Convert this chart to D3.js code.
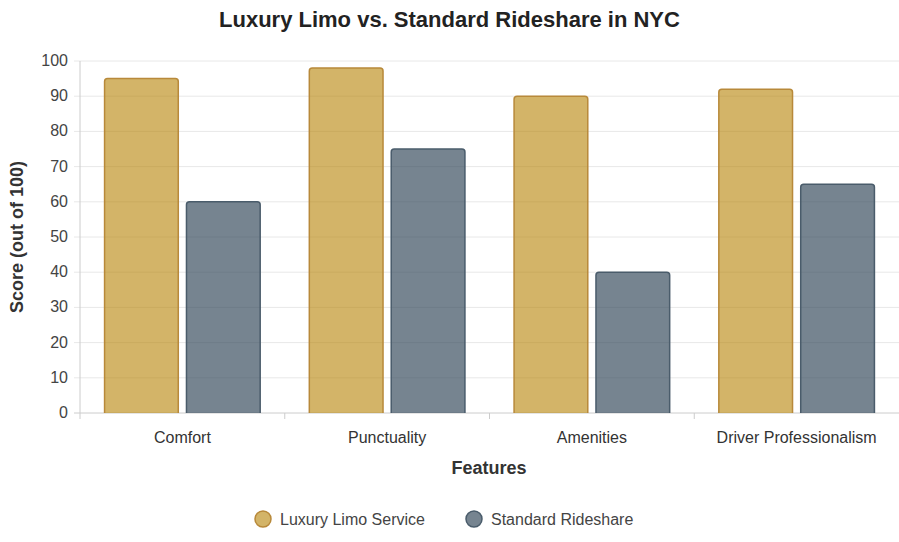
<!DOCTYPE html>
<html><head><meta charset="utf-8">
<script src="https://cdn.jsdelivr.net/npm/d3@7"></script>
<style>body{margin:0;background:#fff;font-family:"Liberation Sans",Arial,sans-serif}</style>
</head><body><svg id="c" width="899" height="542"></svg>
<script>
const categories = ["Comfort","Punctuality","Amenities","Driver Professionalism"];
const luxury = [95, 98, 90, 92];
const standard = [60, 75, 40, 65];
const seriesNames = ["Luxury Limo Service","Standard Rideshare"];
const yTicks = [0,10,20,30,40,50,60,70,80,90,100];

const svg = d3.select("#c");
const L=80, R=899, T=61, B=413;
const x = d3.scaleBand().domain(categories).range([L,R]).paddingInner(0).paddingOuter(0);
const y = d3.scaleLinear().domain([0,100]).range([B,T]);
const fills=["rgba(184,134,11,0.62)","rgba(47,68,86,0.66)"];
const strokes=["#b8893a","#4a5c6b"];

svg.append("text").attr("x",449.5).attr("y",27).attr("text-anchor","middle")
  .attr("font-size",22).attr("font-weight","bold").attr("fill","#222").text("Luxury Limo vs. Standard Rideshare in NYC");

const g=svg.append("g");
yTicks.forEach(t=>{
  g.append("line").attr("x1",L-6).attr("x2",R).attr("y1",y(t)).attr("y2",y(t))
   .attr("stroke",t===0?"#ccc":"#e8e8e8").attr("stroke-width",1);
  g.append("text").attr("x",L-12).attr("y",y(t)+5).attr("text-anchor","end")
   .attr("font-size",16).attr("fill","#444").text(t);
});
g.append("line").attr("x1",L).attr("x2",L).attr("y1",T).attr("y2",B).attr("stroke","#ccc");
categories.forEach(c=>{
  g.append("line").attr("x1",x(c)).attr("x2",x(c)).attr("y1",B).attr("y2",B+6).attr("stroke","#ccc");
  g.append("text").attr("x",x(c)+x.bandwidth()/2).attr("y",443).attr("text-anchor","middle")
   .attr("font-size",16).attr("fill","#333").text(c);
});

const inner=d3.scaleBand().domain([0,1]).range([0,x.bandwidth()]).paddingOuter(0.1/0.8*0.5+0.05).paddingInner(0);
[luxury,standard].forEach((vals,si)=>{
  const bw=x.bandwidth()*0.8/2, bar=bw*0.9;
  vals.forEach((v,i)=>{
    const cx=x(categories[i])+x.bandwidth()*0.1+bw*si+bw/2;
    const x0=cx-bar/2, x1=cx+bar/2, y0=y(v), y1=y(0), r=3;
    g.append("path").attr("d",`M${x0},${y1}L${x0},${y0+r}Q${x0},${y0} ${x0+r},${y0}L${x1-r},${y0}Q${x1},${y0} ${x1},${y0+r}L${x1},${y1}`)
     .attr("fill",fills[si]).attr("stroke",strokes[si]).attr("stroke-width",1.5);
  });
});

svg.append("text").attr("x",489).attr("y",474).attr("text-anchor","middle")
  .attr("font-size",18).attr("font-weight","bold").attr("fill","#333").text("Features");
svg.append("text").attr("transform","translate(23,237) rotate(-90)").attr("text-anchor","middle")
  .attr("font-size",18).attr("font-weight","bold").attr("fill","#333").text("Score (out of 100)");

const lx=[263,474];
seriesNames.forEach((n,i)=>{
  svg.append("circle").attr("cx",lx[i]).attr("cy",519).attr("r",8).attr("fill",fills[i]).attr("stroke",strokes[i]).attr("stroke-width",1.5);
  svg.append("text").attr("x",lx[i]+17).attr("y",525).attr("font-size",16).attr("fill","#444").text(n);
});
</script></body></html>
